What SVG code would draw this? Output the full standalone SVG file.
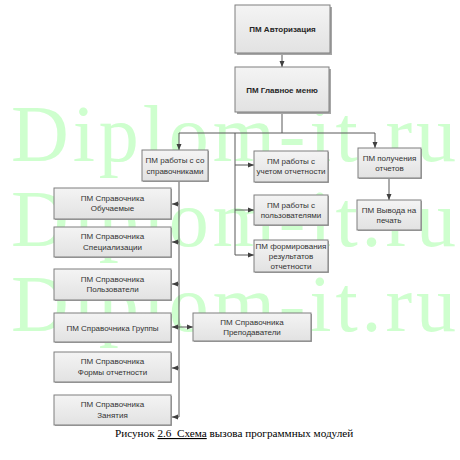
<svg xmlns="http://www.w3.org/2000/svg" width="460" height="460" viewBox="0 0 460 460">
<style>
.wm{font-family:"Liberation Serif",serif;font-size:80px;fill:#ceffce}
.box{fill:url(#g);stroke:#7f7f7f;stroke-width:1}
.sh{fill:#a6a6a6}
.t{font-family:"Liberation Sans",Arial,sans-serif;font-size:8px;fill:#333;text-anchor:middle}
.b{font-weight:bold;fill:#262626}
.c{fill:none;stroke:#595959;stroke-width:1}
.cap{font-family:"Liberation Serif",serif;font-size:11.2px;fill:#000;white-space:pre}
</style>
<defs>
<linearGradient id="g" x1="0" y1="0" x2="0" y2="1">
<stop offset="0" stop-color="#f4f4f4"/>
<stop offset="1" stop-color="#e2e2e2"/>
</linearGradient>
<marker id="a" markerWidth="6" markerHeight="6" refX="6" refY="3" orient="auto" markerUnits="userSpaceOnUse">
<path d="M0,0.5 L6,3 L0,5.5 z" fill="#404040"/>
</marker>
</defs>
<rect width="460" height="460" fill="#fff"/>
<g id="watermark">
<text class="wm" x="11" y="161" textLength="445" lengthAdjust="spacing">Diplom-it.ru</text>
<text class="wm" x="11" y="246" textLength="445" lengthAdjust="spacing">Diplom-it.ru</text>
<text class="wm" x="11" y="331" textLength="445" lengthAdjust="spacing">Diplom-it.ru</text>
</g>
<g id="connectors">
<path class="c" d="M282,53 V67" marker-end="url(#a)"/>
<path class="c" d="M282,112 V133 M179,133 H375 M235,133 V255"/>
<path class="c" d="M179,133 V150" marker-end="url(#a)"/>
<path class="c" d="M375,133 V148" marker-end="url(#a)"/>
<path class="c" d="M235,165 H254" marker-end="url(#a)"/>
<path class="c" d="M235,210 H254" marker-end="url(#a)"/>
<path class="c" d="M235,255 H254" marker-end="url(#a)"/>
<path class="c" d="M389,178 V200" marker-end="url(#a)"/>
<path class="c" d="M179,181 V417"/>
<path class="c" d="M179,204 H172" marker-end="url(#a)"/>
<path class="c" d="M179,242 H172" marker-end="url(#a)"/>
<path class="c" d="M179,284 H172" marker-end="url(#a)"/>
<path class="c" d="M179,327 H172" marker-end="url(#a)"/>
<path class="c" d="M179,327 H193" marker-end="url(#a)"/>
<path class="c" d="M179,368 H172" marker-end="url(#a)"/>
<path class="c" d="M179,417 H172" marker-end="url(#a)"/>
</g>
<g id="n1"><rect class="sh" x="237" y="7" width="95" height="48"/><rect class="box" x="235" y="5" width="95" height="48"/><text class="t b" x="282.5" y="32">ПМ Авторизация</text></g>
<g id="n2"><rect class="sh" x="237" y="69" width="94" height="45"/><rect class="box" x="235" y="67" width="94" height="45"/><text class="t b" x="282" y="92.5">ПМ Главное меню</text></g>
<g id="n3"><rect class="sh" x="143" y="151" width="66" height="31"/><rect class="box" x="142" y="150" width="66" height="31"/><text class="t" x="175" y="163">ПМ работы с со</text><text class="t" x="175" y="173.5">справочниками</text></g>
<g id="n4"><rect class="sh" x="255" y="152" width="74" height="31"/><rect class="box" x="254" y="151" width="74" height="31"/><text class="t" x="291" y="163.5">ПМ работы с</text><text class="t" x="291" y="174">учетом отчетности</text></g>
<g id="n5"><rect class="sh" x="255" y="196" width="74" height="30"/><rect class="box" x="254" y="195" width="74" height="30"/><text class="t" x="291" y="207.5">ПМ работы с</text><text class="t" x="291" y="218">пользователями</text></g>
<g id="n6"><rect class="sh" x="255" y="241" width="74" height="32"/><rect class="box" x="254" y="240" width="74" height="32"/><text class="t" x="291" y="249">ПМ формирования</text><text class="t" x="291" y="259">результатов</text><text class="t" x="291" y="269">отчетности</text></g>
<g id="n7"><rect class="sh" x="359" y="149" width="63" height="30"/><rect class="box" x="358" y="148" width="63" height="30"/><text class="t" x="389.5" y="160.5">ПМ получения</text><text class="t" x="389.5" y="171">отчетов</text></g>
<g id="n8"><rect class="sh" x="358" y="201" width="64" height="30"/><rect class="box" x="357" y="200" width="64" height="30"/><text class="t" x="389" y="212.5">ПМ Вывода на</text><text class="t" x="389" y="223">печать</text></g>
<g id="n9"><rect class="sh" x="55" y="189" width="117" height="31"/><rect class="box" x="54" y="188" width="117" height="31"/><text class="t" x="112.5" y="200.5">ПМ Справочника</text><text class="t" x="112.5" y="211">Обучаемые</text></g>
<g id="n10"><rect class="sh" x="55" y="228" width="117" height="30"/><rect class="box" x="54" y="227" width="117" height="30"/><text class="t" x="112.5" y="239">ПМ Справочника</text><text class="t" x="112.5" y="249.5">Специализации</text></g>
<g id="n11"><rect class="sh" x="55" y="270" width="117" height="31"/><rect class="box" x="54" y="269" width="117" height="31"/><text class="t" x="112.5" y="281.5">ПМ Справочника</text><text class="t" x="112.5" y="292">Пользователи</text></g>
<g id="n12"><rect class="sh" x="55" y="314" width="117" height="29"/><rect class="box" x="54" y="313" width="117" height="29"/><text class="t" x="112.5" y="330.5">ПМ Справочника Группы</text></g>
<g id="n13"><rect class="sh" x="194" y="314" width="118" height="28"/><rect class="box" x="193" y="313" width="118" height="28"/><text class="t" x="252" y="324.5">ПМ Справочника</text><text class="t" x="252" y="335">Преподаватели</text></g>
<g id="n14"><rect class="sh" x="55" y="353" width="117" height="30"/><rect class="box" x="54" y="352" width="117" height="30"/><text class="t" x="112.5" y="364">ПМ Справочника</text><text class="t" x="112.5" y="374.5">Формы отчетности</text></g>
<g id="n15"><rect class="sh" x="55" y="396" width="117" height="30"/><rect class="box" x="54" y="395" width="117" height="30"/><text class="t" x="112.5" y="407">ПМ Справочника</text><text class="t" x="112.5" y="417.5">Занятия</text></g>
<g id="caption"><text class="cap" x="115" y="437">Рисунок <tspan text-decoration="underline">2.6  Схема</tspan> вызова программных модулей</text></g>
</svg>
